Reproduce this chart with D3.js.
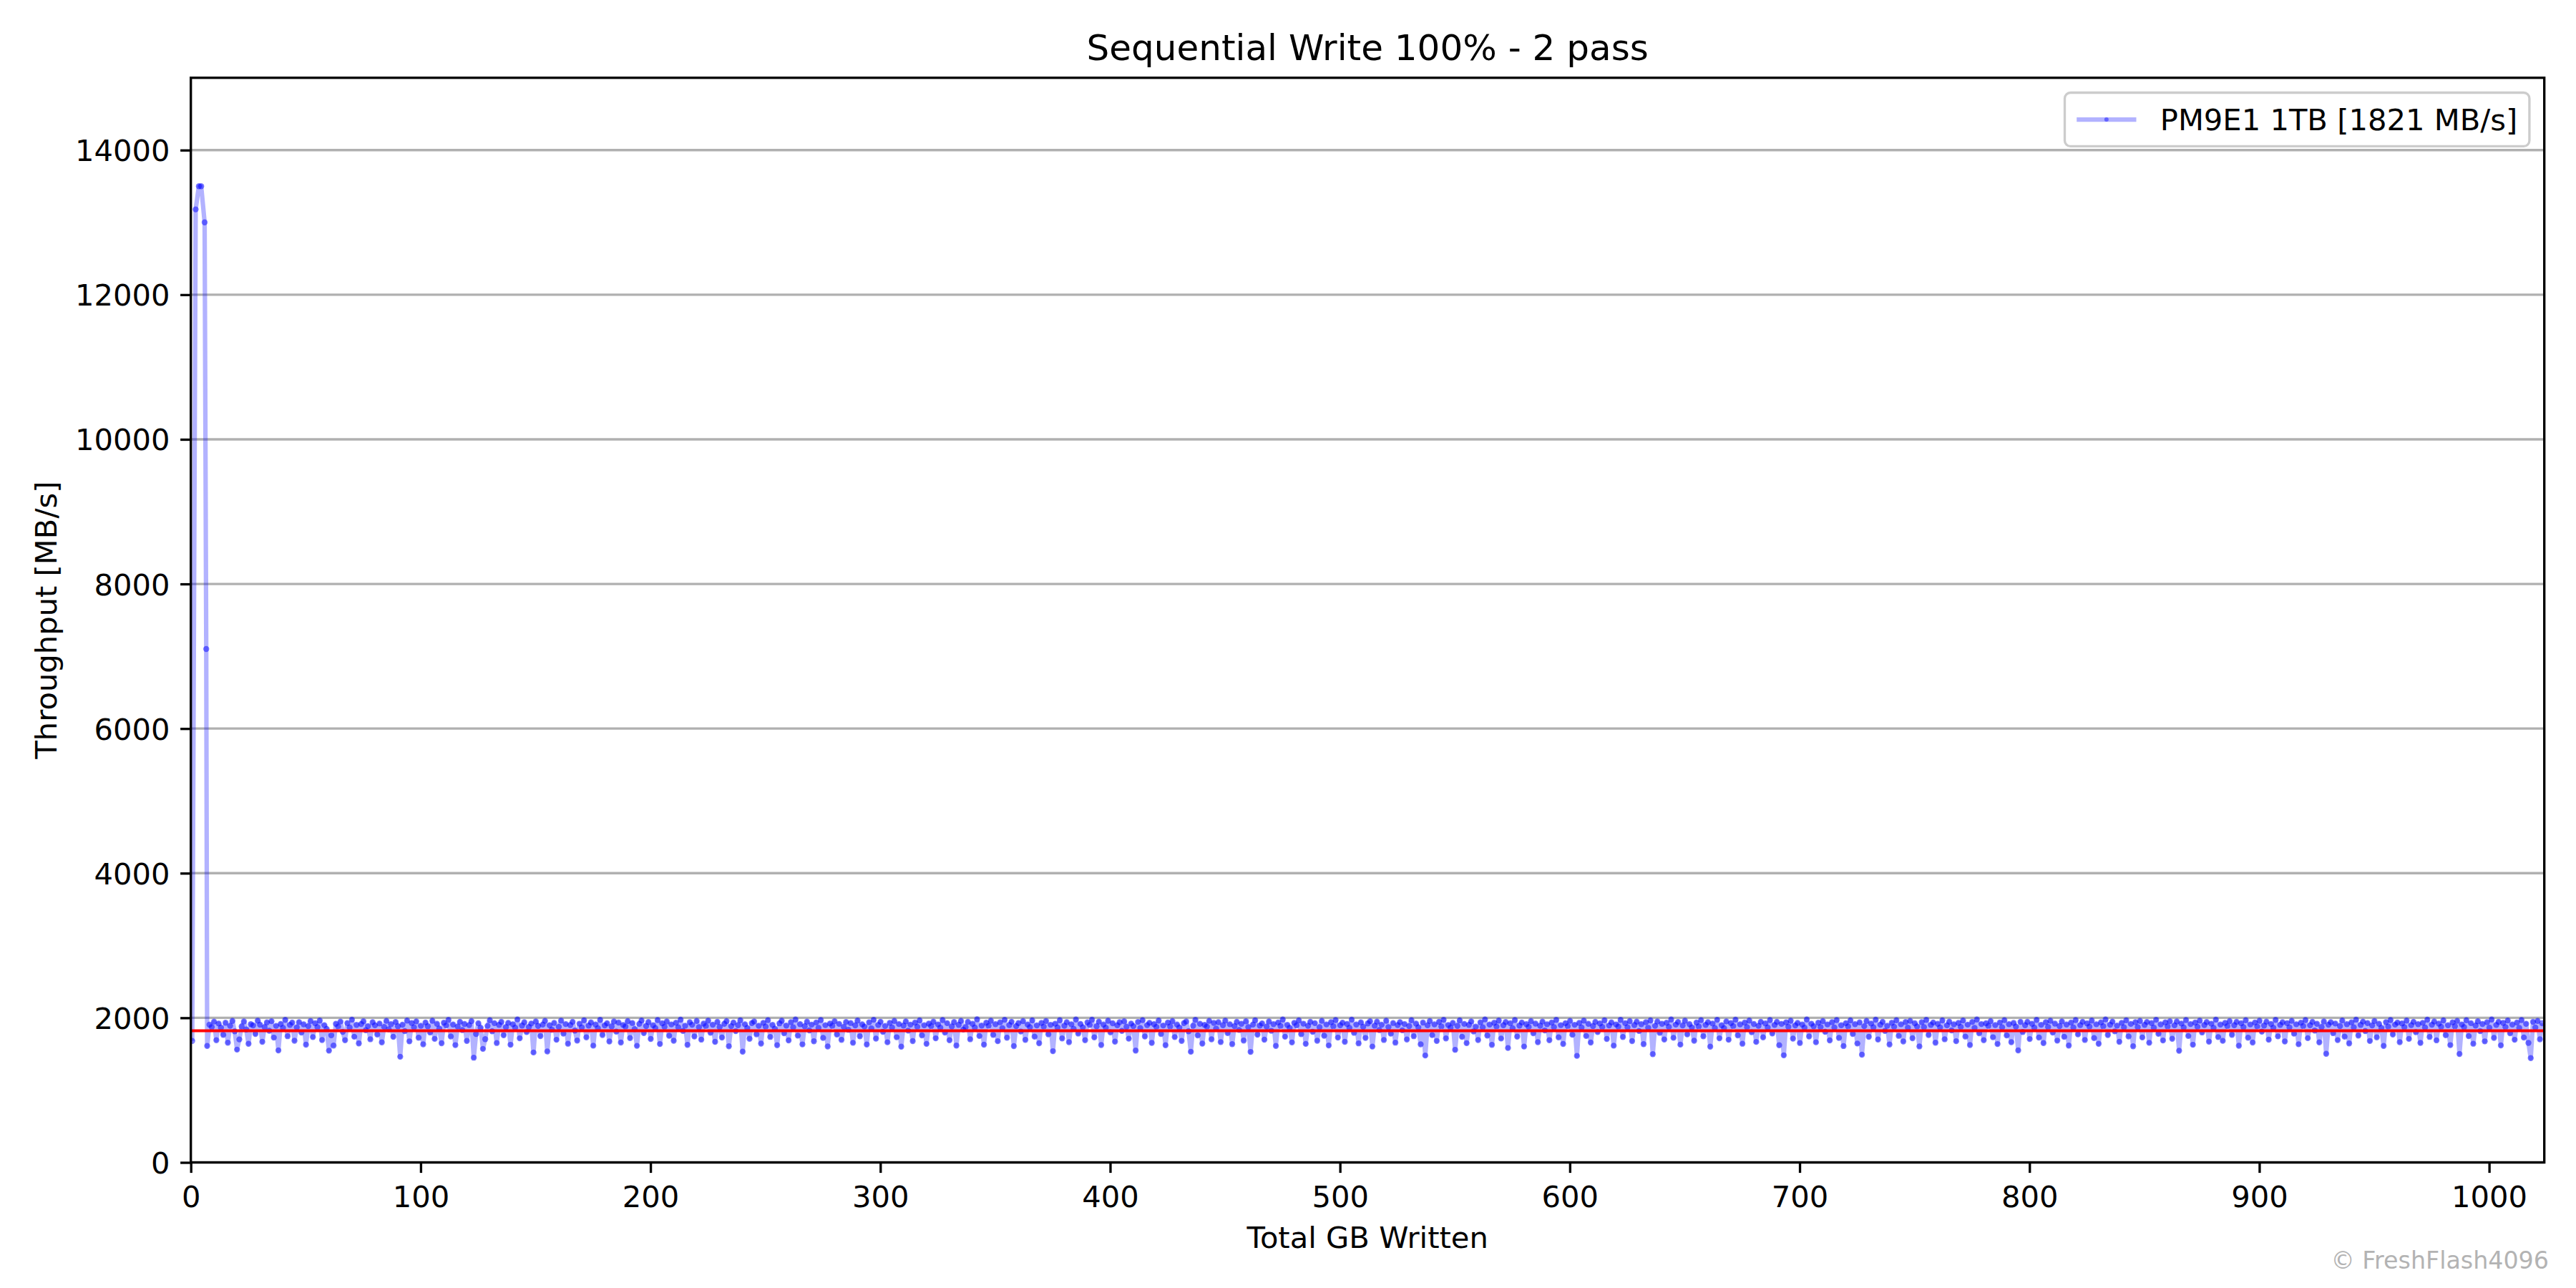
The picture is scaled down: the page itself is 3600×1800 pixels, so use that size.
<!DOCTYPE html>
<html><head><meta charset="utf-8">
<script src="https://cdn.jsdelivr.net/npm/d3@7"></script>
<style>body{margin:0;background:#fff} svg{display:block} text{font-family:"DejaVu Sans",sans-serif}</style>
</head><body><svg id="chart" width="3600" height="1800"></svg>
<script>
const chartTitle = "Sequential Write 100% - 2 pass";
const xLabel = "Total GB Written";
const yLabel = "Throughput [MB/s]";
const seriesName = "PM9E1 1TB [1821 MB/s]";
const watermark = "© FreshFlash4096";
const averageMBs = 1821;
const xTicks = [0, 100, 200, 300, 400, 500, 600, 700, 800, 900, 1000];
const yTicks = [0, 2000, 4000, 6000, 8000, 10000, 12000, 14000];
const xDomain = [0, 1024];
const yDomain = [0, 15000];
// burst (SLC cache) samples
const burstGB = [0.6, 2.1, 3.5, 4.5, 6.0, 6.7];
const burstMBs = [1680, 13180, 13500, 13500, 13000, 7100];
// steady-state samples, one per GB starting at steadyStartGB
const steadyStartGB = 7.1;
const steadyStepGB = 1;
const steadyMBs = [
1610,1905,1872,1948,1690,1921,1863,1764,1932,1655,1889,1957,1812,1560,1701,1880,1949,1838,1640,1912,
1895,1776,1961,1904,1668,1870,1937,1821,1953,1726,1889,1548,1915,1860,1972,1745,1902,1934,1683,1867,
1941,1795,1910,1628,1884,1956,1733,1925,1871,1962,1692,1899,1847,1545,1759,1616,1918,1879,1948,1805,
1690,1927,1866,1975,1738,1903,1645,1914,1952,1828,1886,1703,1940,1896,1769,1921,1660,1874,1958,1840,
1912,1736,1943,1883,1461,1905,1816,1962,1674,1928,1869,1951,1725,1890,1633,1936,1882,1797,1960,1708,
1917,1851,1648,1933,1894,1971,1742,1908,1622,1879,1946,1830,1915,1680,1899,1955,1448,1776,1924,1862,
1570,1704,1889,1967,1813,1926,1651,1903,1945,1758,1871,1931,1627,1911,1864,1978,1716,1893,1940,1802,
1873,1921,1520,1950,1887,1747,1906,1958,1534,1898,1835,1929,1696,1876,1961,1781,1914,1641,1900,1944,
1823,1685,1919,1867,1966,1730,1892,1937,1614,1908,1855,1972,1762,1895,1925,1672,1881,1949,1808,1934,
1658,1901,1878,1955,1719,1928,1843,1612,1916,1963,1789,1885,1942,1707,1897,1859,1969,1637,1924,1875,
1950,1751,1909,1682,1932,1868,1974,1819,1891,1625,1939,1904,1741,1957,1870,1698,1920,1886,1961,1793,
1905,1667,1944,1873,1727,1918,1954,1606,1884,1935,1815,1898,1966,1532,1911,1858,1710,1927,1950,1772,
1890,1643,1931,1877,1968,1735,1902,1848,1621,1923,1959,1786,1893,1687,1940,1869,1976,1753,1913,1632,
1882,1947,1826,1906,1675,1936,1861,1970,1722,1899,1603,1921,1888,1953,1768,1916,1695,1874,1943,1834,
1928,1654,1895,1962,1744,1910,1879,1630,1938,1853,1973,1712,1901,1946,1806,1887,1661,1930,1866,1957,
1731,1914,1600,1892,1951,1822,1906,1678,1934,1876,1965,1757,1897,1639,1920,1884,1947,1716,1909,1863,
1970,1796,1926,1689,1880,1942,1615,1903,1958,1837,1871,1944,1703,1917,1866,1979,1748,1893,1628,1933,
1889,1960,1763,1912,1676,1938,1857,1973,1724,1900,1946,1608,1885,1927,1810,1954,1694,1908,1870,1964,
1739,1895,1647,1929,1877,1956,1771,1904,1538,1919,1865,1967,1715,1890,1941,1663,1911,1848,1976,1782,
1916,1869,1690,1937,1901,1974,1729,1883,1948,1623,1907,1862,1959,1799,1925,1670,1896,1939,1818,1952,
1875,1711,1921,1886,1546,1943,1858,1968,1741,1899,1931,1652,1913,1874,1962,1776,1894,1620,1935,1880,
1955,1733,1907,1866,1680,1927,1949,1814,1530,1890,1971,1757,1918,1642,1903,1877,1958,1702,1929,1852,
1939,1664,1898,1961,1789,1911,1636,1884,1945,1832,1917,1685,1952,1871,1528,1906,1966,1766,1892,1923,
1697,1878,1950,1820,1913,1611,1936,1887,1977,1738,1902,1860,1659,1931,1895,1964,1774,1919,1639,1889,
1944,1806,1926,1683,1870,1958,1751,1909,1617,1940,1882,1970,1726,1897,1933,1668,1915,1861,1975,1792,
1908,1646,1937,1876,1721,1922,1953,1602,1891,1947,1830,1905,1693,1960,1872,1780,1928,1656,1899,1941,
1827,1914,1700,1885,1967,1745,1920,1868,1633,1934,1478,1896,1956,1760,1910,1679,1945,1881,1973,1715,
1901,1863,1929,1557,1888,1965,1737,1916,1649,1903,1951,1811,1877,1692,1938,1869,1978,1754,1907,1626,
1932,1879,1962,1713,1897,1942,1582,1924,1855,1969,1739,1893,1936,1602,1912,1874,1954,1786,1920,1662,
1890,1948,1825,1911,1689,1935,1870,1972,1730,1899,1638,1926,1884,1958,1765,1904,1473,1930,1866,1961,
1748,1917,1657,1886,1944,1802,1922,1873,1966,1707,1894,1937,1614,1909,1878,1971,1734,1926,1869,1955,
1678,1900,1947,1817,1913,1635,1939,1862,1964,1497,1889,1950,1792,1918,1699,1932,1874,1976,1723,1906,
1943,1629,1894,1959,1770,1912,1867,1682,1935,1881,1968,1744,1903,1940,1601,1921,1859,1973,1716,1898,
1857,1951,1696,1927,1885,1975,1757,1910,1641,1934,1871,1962,1800,1915,1666,1889,1946,1729,1923,1866,
1969,1783,1901,1944,1620,1916,1481,1938,1876,1960,1712,1895,1929,1651,1907,1864,1977,1741,1919,1883,
1661,1933,1872,1955,1806,1909,1687,1940,1865,1970,1722,1898,1609,1926,1880,1964,1776,1913,1644,1937,
1490,1884,1957,1736,1921,1868,1974,1699,1905,1945,1819,1890,1631,1932,1876,1967,1750,1911,1673,1942,
1863,1958,1717,1924,1881,1604,1939,1870,1971,1762,1902,1936,1655,1917,1867,1965,1703,1896,1947,1826,
1910,1676,1930,1874,1963,1740,1906,1623,1943,1860,1976,1786,1914,1690,1925,1887,1954,1731,1900,1637,
1936,1869,1968,1755,1913,1662,1929,1878,1548,1945,1803,1897,1944,1706,1918,1864,1972,1727,1904,1650,
1941,1873,1959,1795,1920,1684,1885,1951,1737,1908,1615,1934,1866,1970,1770,1899,1946,1693,1923,1877,
1962,1719,1911,1640,1937,1882,1978,1761,1904,1948,1812,1892,1668,1931,1868,1966,1742,1916,1606,1940,
1871,1957,1728,1902,1943,1654,1927,1863,1973,1778,1910,1686,1938,1880,1953,1710,1896,1949,1543,1921,
1865,1969,1748,1914,1627,1935,1876,1961,1797,1900,1942,1670,1919,1861,1975,1733,1907,1681,1930,1884,
1954,1764,1897,1944,1613,1924,1870,1967,1725,1909,1658,1936,1879,1960,1808,1893,1947,1697,1915,1862,
1972,1743,1903,1939,1672,1926,1867,1958,1780,1911,1634,1933,1885,1969,1718,1898,1945,1823,1917,1660,
1873,1950,1502,1905,1940,1787,1921,1691,1886,1963,1739,1912,1645,1937,1868,1975,1754,1902,1948,1816,
1927,1679,1894,1956,1730,1918,1860,1610,1941,1877,1970,1768,1906,1935,1663,1923,1871,1962,1708,1899,
1946,1801,1913,1652,1931,1866,1974,1735,1904,1949,1688,1920,1875,1964,1759,1897,1622,1938,1883,1958,
1499,1909,1870,1967,1746,1926,1641,1893,1952,1815,1915,1674,1939,1864,1977,1722,1901,1944,1618,1930,
1872,1963,1785,1908,1696,1935,1861,1970,1727,1918,1653,1442,1944,1866,1957,1702,1925
];

const W = 3600, H = 1800;
const plot = {left: 266.7, right: 3555.7, top: 108.7, bottom: 1624.5};
const FS = 41.67;           // 10pt @ 300 dpi
const LW = 3.33;            // 0.8pt
const BLUE = "rgb(0,0,255)";

const points = burstGB.map((g, i) => ({gb: g, v: burstMBs[i]}))
  .concat(steadyMBs.map((v, i) => ({gb: steadyStartGB + i * steadyStepGB, v: v})));

const svg = d3.select("#chart");
svg.append("rect").attr("width", W).attr("height", H).attr("fill", "#fff");

const x = d3.scaleLinear().domain(xDomain).range([plot.left, plot.right]);
const y = d3.scaleLinear().domain(yDomain).range([plot.bottom, plot.top]);

svg.append("defs").append("clipPath").attr("id", "clip")
  .append("rect").attr("x", plot.left).attr("y", plot.top)
  .attr("width", plot.right - plot.left).attr("height", plot.bottom - plot.top);

// grid
svg.append("g").selectAll("line").data(yTicks).join("line")
  .attr("x1", plot.left).attr("x2", plot.right)
  .attr("y1", d => y(d)).attr("y2", d => y(d))
  .attr("stroke", "#b0b0b0").attr("stroke-width", LW);

// data
const dg = svg.append("g").attr("clip-path", "url(#clip)");
dg.append("path").datum(points)
  .attr("d", d3.line().x(d => x(d.gb)).y(d => y(d.v)))
  .attr("fill", "none").attr("stroke", BLUE).attr("stroke-opacity", 0.3)
  .attr("stroke-width", 6.25).attr("stroke-linejoin", "round");
dg.append("g").selectAll("circle").data(points).join("circle")
  .attr("cx", d => x(d.gb)).attr("cy", d => y(d.v)).attr("r", 4.2)
  .attr("fill", BLUE).attr("fill-opacity", 0.5);

// average line
dg.append("line").attr("x1", x(xDomain[0])).attr("x2", x(xDomain[1]))
  .attr("y1", y(averageMBs)).attr("y2", y(averageMBs))
  .attr("stroke", "#ff0000").attr("stroke-width", 4.17);

// axes
const xAxis = d3.axisBottom(x).tickValues(xTicks).tickFormat(d3.format("d"))
  .tickSize(14.6).tickPadding(14.6);
const gx = svg.append("g").attr("transform", `translate(0,${plot.bottom})`).call(xAxis);
const yAxis = d3.axisLeft(y).tickValues(yTicks).tickFormat(d3.format("d"))
  .tickSize(14.6).tickPadding(14.6);
const gy = svg.append("g").attr("transform", `translate(${plot.left},0)`).call(yAxis);
[gx, gy].forEach(g => {
  g.select(".domain").remove();
  g.selectAll(".tick line").attr("stroke", "#000").attr("stroke-width", LW);
  g.selectAll(".tick text").attr("fill", "#000").style("font-size", FS + "px")
    .style("font-family", '"DejaVu Sans", sans-serif');
});
gx.selectAll(".tick text").attr("dy", null).attr("y", 62.5);
gy.selectAll(".tick text").attr("dy", "0.36em");

// spines
svg.append("rect").attr("x", plot.left).attr("y", plot.top)
  .attr("width", plot.right - plot.left).attr("height", plot.bottom - plot.top)
  .attr("fill", "none").attr("stroke", "#000").attr("stroke-width", LW);

// title & labels
svg.append("text").attr("x", (plot.left + plot.right) / 2).attr("y", 84)
  .attr("text-anchor", "middle").style("font-size", "50px").text(chartTitle);
svg.append("text").attr("x", (plot.left + plot.right) / 2).attr("y", 1744)
  .attr("text-anchor", "middle").style("font-size", FS + "px").text(xLabel);
svg.append("text").attr("transform", `translate(78.5,${(plot.top + plot.bottom) / 2}) rotate(-90)`)
  .attr("text-anchor", "middle").style("font-size", FS + "px").text(yLabel);

// legend
const lg = svg.append("g");
const lx = 2885.5, ly = 129.5, lw = 649.4, lh = 74.9;
lg.append("rect").attr("x", lx).attr("y", ly).attr("width", lw).attr("height", lh)
  .attr("rx", 8).attr("fill", "#fff").attr("fill-opacity", 0.8)
  .attr("stroke", "#cccccc").attr("stroke-width", LW);
lg.append("line").attr("x1", lx + 16.7).attr("x2", lx + 100).attr("y1", ly + 37.5).attr("y2", ly + 37.5)
  .attr("stroke", BLUE).attr("stroke-opacity", 0.3).attr("stroke-width", 6.25);
lg.append("circle").attr("cx", lx + 58.3).attr("cy", ly + 37.5).attr("r", 3)
  .attr("fill", BLUE).attr("fill-opacity", 0.45);
lg.append("text").attr("x", lx + 133.3).attr("y", ly + 52.5)
  .style("font-size", FS + "px").text(seriesName);

// watermark
svg.append("text").attr("x", 3562).attr("y", 1773).attr("text-anchor", "end")
  .attr("fill", "#b3b3b3").style("font-size", "33.3px").text(watermark);
</script>
</body></html>
